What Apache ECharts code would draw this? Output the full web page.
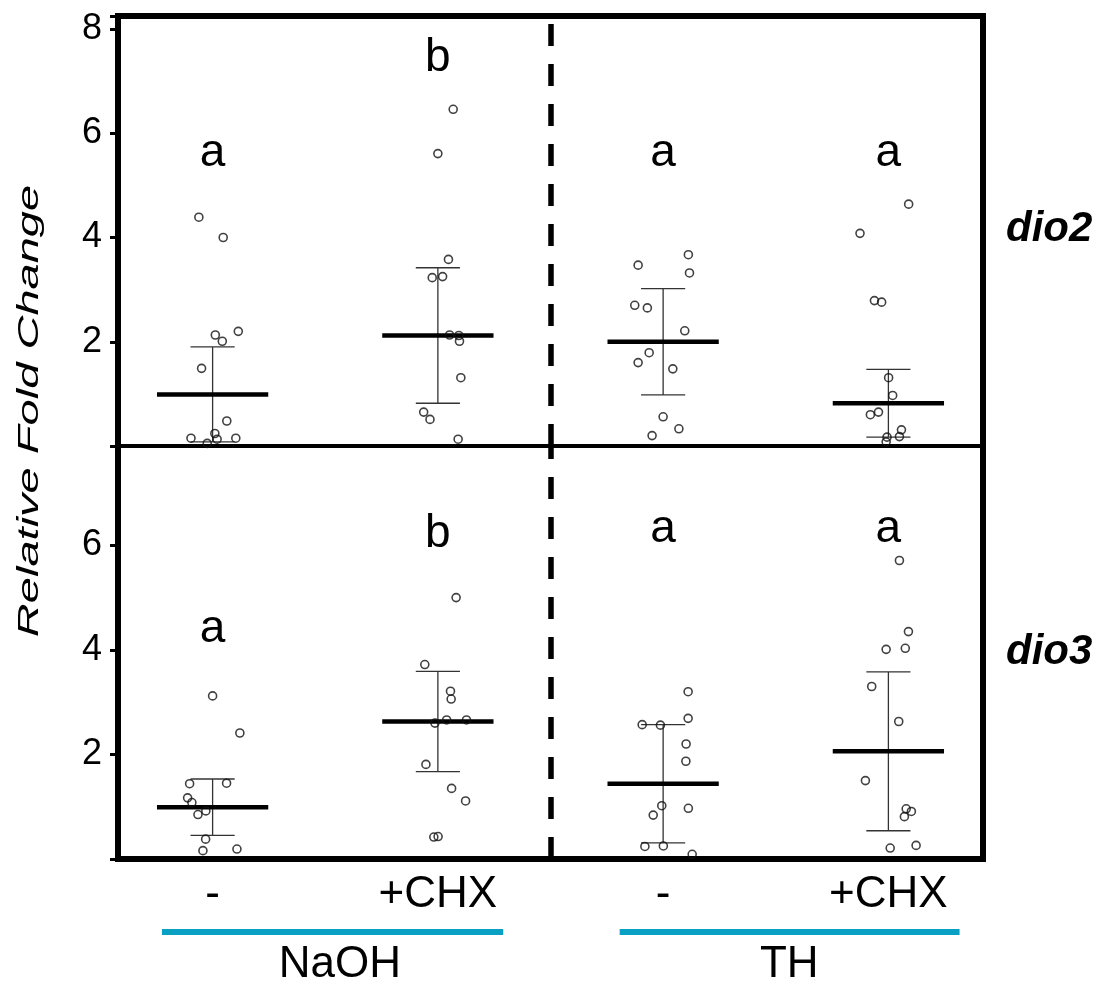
<!DOCTYPE html>
<html>
<head>
<meta charset="utf-8">
<script src="https://cdn.jsdelivr.net/npm/echarts@6/dist/echarts.min.js"></script>
<style>
  html, body { margin: 0; padding: 0; background: #fff; }
  #chart { width: 1115px; height: 988px; }
</style>
</head>
<body>
<div id="chart"></div>
<script>
// Treatment labels under each column, and the vehicle groups they belong to
const treatments = ['-', '+CHX', '-', '+CHX'];
const vehicles = ['NaOH', 'TH'];
const genes = ['dio2', 'dio3'];
const yTicks = [2, 4, 6, 8];

// dio2: group means, error (SD) and significance letters
const dio2Mean = [0.99, 2.12, 2.00, 0.82];
const dio2Err = [0.91, 1.30, 1.02, 0.65];
const dio2Letters = ['a', 'b', 'a', 'a'];
const dio2LetterAt = [5.62, 7.44, 5.62, 5.62];
// dio2: individual replicates and their horizontal jitter
const dio2Values = [
  [4.39, 4.00, 2.13, 2.01, 2.20, 1.49, 0.48, 0.24, 0.15, 0.05, 0.13, 0.15],
  [6.46, 5.61, 3.58, 3.23, 3.25, 2.13, 2.12, 2.01, 1.31, 0.65, 0.51, 0.13],
  [3.47, 3.67, 3.32, 2.70, 2.65, 2.21, 1.79, 1.60, 1.48, 0.56, 0.33, 0.20],
  [4.64, 4.08, 2.79, 2.76, 1.31, 0.97, 0.60, 0.65, 0.31, 0.18, 0.17, 0.08]
];
const dio2Jitter = [
  [-0.061, 0.047, 0.012, 0.043, 0.114, -0.049, 0.063, 0.010, -0.096, -0.024, 0.020, 0.103],
  [0.068, 0.000, 0.047, -0.025, 0.021, 0.052, 0.093, 0.096, 0.102, -0.063, -0.035, 0.090],
  [-0.111, 0.112, 0.117, -0.126, -0.070, 0.096, -0.062, -0.111, 0.043, 0.000, 0.070, -0.049],
  [0.090, -0.126, -0.062, -0.030, 0.001, 0.019, -0.080, -0.044, 0.058, 0.049, -0.006, -0.010]
];

// dio3: group means, error (SD) and significance letters
const dio3Mean = [0.99, 2.63, 1.44, 2.06];
const dio3Err = [0.54, 0.96, 1.13, 1.52];
const dio3Letters = ['a', 'b', 'a', 'a'];
const dio3LetterAt = [4.39, 6.21, 6.31, 6.31];
// dio3: individual replicates and their horizontal jitter
const dio3Values = [
  [3.12, 2.41, 1.44, 1.45, 1.17, 1.08, 0.92, 0.85, 0.38, 0.16, 0.19],
  [5.00, 3.72, 3.21, 3.06, 2.66, 2.66, 2.60, 1.81, 1.35, 1.11, 0.42, 0.43],
  [3.20, 2.69, 2.57, 2.56, 2.20, 1.87, 1.02, 0.97, 0.84, 0.24, 0.25, 0.09],
  [5.71, 4.35, 4.01, 4.03, 3.30, 2.63, 1.50, 0.96, 0.91, 0.81, 0.21, 0.26]
];
const dio3Jitter = [
  [0.000, 0.121, -0.102, 0.062, -0.111, -0.092, -0.030, -0.065, -0.031, -0.043, 0.108],
  [0.081, -0.058, 0.056, 0.059, 0.039, 0.127, -0.013, -0.053, 0.061, 0.123, -0.018, 0.001],
  [0.111, 0.111, -0.093, -0.012, 0.102, 0.101, -0.006, 0.112, -0.044, -0.081, 0.001, 0.129],
  [0.049, 0.089, -0.010, 0.075, -0.074, 0.046, -0.102, 0.079, 0.102, 0.071, 0.008, 0.123]
];

// ---- layout and style constants ----
const FONT = '"Liberation Sans", Arial, Helvetica, sans-serif';
const X_MIN = 0.58, X_MAX = 4.42;
const MEAN_HALF = 0.247;   // half-length of the mean bar, in column units
const CAP_HALF = 0.098;    // half-length of the error-bar caps
const DIVIDER_AT = 2.5;    // dashed line between NaOH and TH
const VEHICLE_SPANS = [[0.775, 2.29], [2.807, 4.316]];
const VEHICLE_LABEL_AT = [1.565, 3.56];
const BRACKET_COLOR = '#0aa0c4';

const chart = echarts.init(document.getElementById('chart'), null, { renderer: 'canvas' });

function meanItem(params, api) {
  const x = api.value(0), y = api.value(1);
  const a = api.coord([x - MEAN_HALF, y]);
  const b = api.coord([x + MEAN_HALF, y]);
  return {
    type: 'line',
    shape: { x1: a[0], y1: a[1], x2: b[0], y2: b[1] },
    style: { stroke: '#000', lineWidth: 4.5 }
  };
}

function errItem(params, api) {
  const x = api.value(0), m = api.value(1), e = api.value(2);
  const top = api.coord([x, m + e]);
  const bot = api.coord([x, m - e]);
  const l = api.coord([x - CAP_HALF, m])[0];
  const r = api.coord([x + CAP_HALF, m])[0];
  const st = { stroke: '#333', lineWidth: 1.3 };
  return {
    type: 'group',
    children: [
      { type: 'line', shape: { x1: top[0], y1: top[1], x2: bot[0], y2: bot[1] }, style: st },
      { type: 'line', shape: { x1: l, y1: top[1], x2: r, y2: top[1] }, style: st },
      { type: 'line', shape: { x1: l, y1: bot[1], x2: r, y2: bot[1] }, style: st }
    ]
  };
}

function makeLetterItem(letters) {
  return function (params, api) {
    const p = api.coord([api.value(0), api.value(1)]);
    return {
      type: 'text',
      x: p[0], y: p[1],
      style: {
        text: letters[params.dataIndex],
        fontSize: 46, fontFamily: FONT, fill: '#000',
        align: 'center', verticalAlign: 'middle'
      }
    };
  };
}

function panelSeries(xi, yi, means, errs, values, jitter, letters, letterAt) {
  const cols = means.map((m, i) => i + 1);
  const points = [];
  values.forEach((grp, g) => {
    grp.forEach((v, k) => points.push([g + 1 + jitter[g][k], v]));
  });
  return [
    {
      type: 'custom', xAxisIndex: xi, yAxisIndex: yi, silent: true, z: 3,
      renderItem: errItem,
      encode: { x: 0, y: 1 },
      data: cols.map((c, i) => [c, means[i], errs[i]])
    },
    {
      type: 'custom', xAxisIndex: xi, yAxisIndex: yi, silent: true, z: 4,
      renderItem: meanItem,
      encode: { x: 0, y: 1 },
      data: cols.map((c, i) => [c, means[i]])
    },
    {
      type: 'scatter', xAxisIndex: xi, yAxisIndex: yi, silent: true, z: 5,
      symbol: 'circle', symbolSize: 8,
      itemStyle: { color: 'rgba(255,255,255,0)', borderColor: '#111', borderWidth: 1.6 },
      data: points,
      markLine: {
        silent: true, symbol: ['none', 'none'], label: { show: false },
        lineStyle: { color: '#000', width: 5.5, type: [22, 18] },
        data: [{ xAxis: DIVIDER_AT }]
      }
    },
    {
      type: 'custom', xAxisIndex: xi, yAxisIndex: yi, silent: true, z: 6,
      renderItem: makeLetterItem(letters),
      encode: { x: 0, y: 1 },
      data: cols.map((c, i) => [c, letterAt[i]])
    }
  ];
}

function frameX(grid, position, width, withLabels) {
  return {
    type: 'value', gridIndex: grid, position: position,
    min: X_MIN, max: X_MAX,
    axisLine: { show: true, onZero: false, lineStyle: { color: '#000', width: width, cap: 'square' } },
    axisTick: { show: false },
    splitLine: { show: false },
    axisLabel: withLabels ? {
      show: true,
      customValues: [1, 2, 3, 4],
      formatter: v => treatments[Math.round(v) - 1],
      fontSize: 44, fontFamily: FONT, color: '#000', margin: 14
    } : { show: false }
  };
}

function frameY(grid, position, max, withTicks) {
  return {
    type: 'value', gridIndex: grid, position: position,
    min: 0, max: max, interval: 2,
    axisLine: { show: true, onZero: false, lineStyle: { color: '#000', width: 6, cap: 'square' } },
    axisTick: withTicks ? { show: true, length: 8, lineStyle: { color: '#000', width: 3 } } : { show: false },
    splitLine: { show: false },
    axisLabel: withTicks ? {
      show: true,
      formatter: v => (yTicks.indexOf(v) >= 0 ? String(v) : ''),
      fontSize: 36, fontFamily: FONT, color: '#000', margin: 16
    } : { show: false }
  };
}

const option = {
  animation: false,
  backgroundColor: '#fff',
  grid: [
    { left: 118, top: 16, width: 865, height: 430 },
    { left: 118, top: 446, width: 865, height: 413 }
  ],
  xAxis: [
    frameX(0, 'bottom', 4, false),
    frameX(0, 'top', 6, false),
    frameX(1, 'bottom', 6, true),
    frameX(1, 'top', 4, false)
  ],
  yAxis: [
    frameY(0, 'left', 8.25, true),
    frameY(0, 'right', 8.25, false),
    frameY(1, 'left', 7.9, true),
    frameY(1, 'right', 7.9, false)
  ],
  series: [
    ...panelSeries(0, 0, dio2Mean, dio2Err, dio2Values, dio2Jitter, dio2Letters, dio2LetterAt),
    ...panelSeries(2, 2, dio3Mean, dio3Err, dio3Values, dio3Jitter, dio3Letters, dio3LetterAt)
  ]
};
chart.setOption(option);

// Annotations around the frame: axis title, gene names, vehicle brackets
const px = v => chart.convertToPixel({ xAxisIndex: 2 }, v);
const bracketY = 932;
const graphics = [
  {
    type: 'text', x: 30, y: 411, rotation: Math.PI / 2, scaleX: 1.68, scaleY: 1.05,
    style: {
      text: 'Relative Fold Change', fontSize: 28, fontStyle: 'italic',
      fontFamily: FONT, fill: '#000', align: 'center', verticalAlign: 'middle'
    }
  },
  {
    type: 'text', x: 1006, y: 229,
    style: { text: genes[0], fontSize: 42, fontStyle: 'italic', fontWeight: 'bold',
      fontFamily: FONT, fill: '#000', align: 'left', verticalAlign: 'middle' }
  },
  {
    type: 'text', x: 1006, y: 652,
    style: { text: genes[1], fontSize: 42, fontStyle: 'italic', fontWeight: 'bold',
      fontFamily: FONT, fill: '#000', align: 'left', verticalAlign: 'middle' }
  }
];
vehicles.forEach((name, i) => {
  graphics.push({
    type: 'line',
    shape: { x1: px(VEHICLE_SPANS[i][0]), y1: bracketY, x2: px(VEHICLE_SPANS[i][1]), y2: bracketY },
    style: { stroke: BRACKET_COLOR, lineWidth: 6 }
  });
  graphics.push({
    type: 'text', x: px(VEHICLE_LABEL_AT[i]), y: 965,
    style: { text: name, fontSize: 44, fontFamily: FONT, fill: '#000',
      align: 'center', verticalAlign: 'middle' }
  });
});
chart.setOption({ graphic: graphics });
</script>
</body>
</html>
